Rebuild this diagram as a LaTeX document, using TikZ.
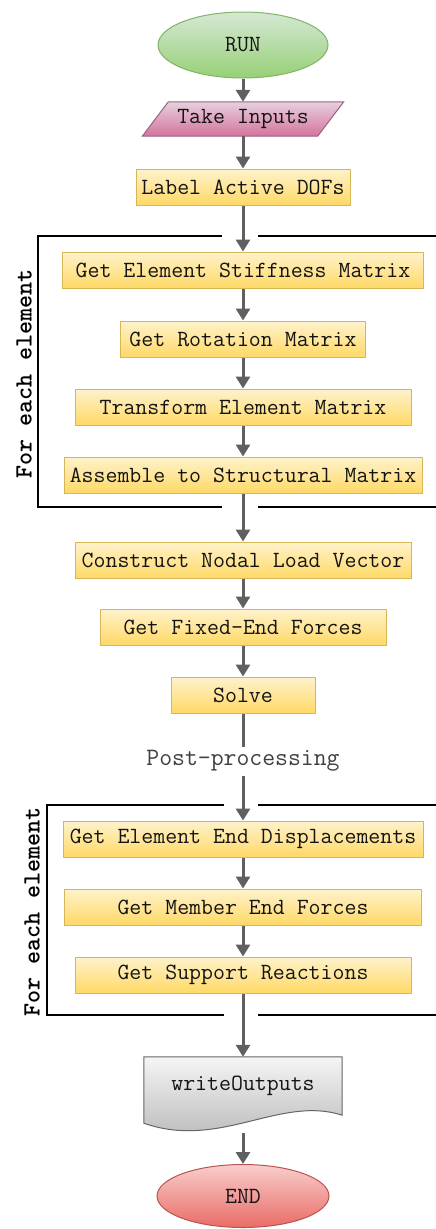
\documentclass[tikz,border=0pt]{standalone}
\usetikzlibrary{shapes.geometric,arrows.meta,backgrounds}

\definecolor{boxtop}{HTML}{FFF2CC}
\definecolor{boxbot}{HTML}{FFD966}
\definecolor{boxline}{HTML}{D6B656}
\definecolor{gotop}{HTML}{D5E8D4}
\definecolor{gobot}{HTML}{97D077}
\definecolor{goline}{HTML}{82B366}
\definecolor{intop}{HTML}{E6D0DE}
\definecolor{inbot}{HTML}{D5739D}
\definecolor{inline}{HTML}{996185}
\definecolor{doctop}{HTML}{F5F5F5}
\definecolor{docbot}{HTML}{B3B3B3}
\definecolor{docline}{HTML}{666666}
\definecolor{endtop}{HTML}{F8CECC}
\definecolor{endbot}{HTML}{EA6B66}
\definecolor{endline}{HTML}{B85450}
\definecolor{arrowc}{HTML}{606060}
\definecolor{textc}{HTML}{141414}

\tikzset{
  label font/.style={font=\ttfamily\fontsize{23.2}{23.2}\selectfont, text=textc},
  stepbox/.style={label font, draw=boxline, line width=1pt,
    top color=boxtop, bottom color=boxbot, minimum height=36pt, inner sep=0pt},
  terminal/.style={label font, ellipse, line width=1pt, inner sep=0pt},
  flow/.style={draw=arrowc, line width=3pt, -{Triangle[width=14pt,length=12pt]}},
  loopframe/.style={draw=black, line width=1.6pt},
  looplabel/.style={rotate=90, font=\ttfamily\bfseries\fontsize{24.8}{24.8}\selectfont},
}

\begin{document}
\begin{tikzpicture}[x=1pt,y=-1pt]
\useasboundingbox (0,0) rectangle (436,1229);

% terminals, input, steps
\node[terminal, draw=goline, top color=gotop, bottom color=gobot,
      minimum width=170pt, minimum height=66pt] (run) at (243,45) {RUN};

\node[label font, minimum width=201pt, minimum height=34pt, inner sep=0pt] (inp) at (243,119) {Take Inputs};
\begin{scope}[on background layer]
  \path[draw=inline, line width=1pt, top color=intop, bottom color=inbot]
    ([xshift=26pt]inp.north west) -- (inp.north east)
    -- ([xshift=-26pt]inp.south east) -- (inp.south west) -- cycle;
\end{scope}

\node[stepbox, minimum width=214pt] (lab)  at (243,187) {Label Active DOFs};
\node[stepbox, minimum width=361pt] (gesm) at (243,270) {Get Element Stiffness Matrix};
\node[stepbox, minimum width=245pt] (grm)  at (243,339) {Get Rotation Matrix};
\node[stepbox, minimum width=336pt] (tem)  at (243,407) {Transform Element Matrix};
\node[stepbox, minimum width=358pt] (asm)  at (243,475) {Assemble to Structural Matrix};
\node[stepbox, minimum width=336pt] (cnlv) at (243,560) {Construct Nodal Load Vector};
\node[stepbox, minimum width=286pt] (gfef) at (243,627) {Get Fixed-End Forces};
\node[stepbox, minimum width=144pt] (solve) at (243,695) {Solve};
\node[stepbox, minimum width=360pt] (geed) at (243,839) {Get Element End Displacements};
\node[stepbox, minimum width=357pt] (gmef) at (243,907) {Get Member End Forces};
\node[stepbox, minimum width=336pt] (gsr)  at (243,975) {Get Support Reactions};

% output document with wavy lower edge
\node[label font, minimum width=198pt, minimum height=58pt, inner sep=0pt] (doc) at (243,1086) {writeOutputs};
\begin{scope}[on background layer]
  \path[draw=docline, line width=1pt, top color=doctop, bottom color=docbot]
    (doc.north west) -- (doc.north east) -- (doc.south east)
    .. controls (280,1095) and (220,1150) .. ([yshift=-8pt]doc.south west) -- cycle;
\end{scope}
\coordinate (docout) at (243,1133);

\node[terminal, draw=endline, top color=endtop, bottom color=endbot,
      minimum width=172pt, minimum height=63pt] (end) at (243,1196) {END};

% loop frames
\draw[loopframe] (222,236) -- (38,236) -- (38,507) -- (222,507);
\draw[loopframe] (258,236) -- (436,236);
\draw[loopframe] (258,507) -- (436,507);
\node[looplabel] (loopa) at (24,374) {For each element};

\draw[loopframe] (224,805) -- (47,805) -- (47,1015) -- (224,1015);
\draw[loopframe] (258,805) -- (436,805);
\draw[loopframe] (258,1015) -- (436,1015);
\node[looplabel] (loopb) at (32,912) {For each element};

% connectors
\draw[flow] (run) -- (inp);
\draw[flow] (inp) -- (lab);
\draw[flow] (lab) -- (gesm);
\draw[flow] (gesm) -- (grm);
\draw[flow] (grm) -- (tem);
\draw[flow] (tem) -- (asm);
\draw[flow] (asm) -- (cnlv);
\draw[flow] (cnlv) -- (gfef);
\draw[flow] (gfef) -- (solve);
\draw[flow] (solve) -- node[pos=0.444, fill=white, inner xsep=2pt, inner ysep=4pt,
  font=\ttfamily\fontsize{25}{25}\selectfont, text=black!75] (post) {Post-processing} (geed);
\draw[flow] (geed) -- (gmef);
\draw[flow] (gmef) -- (gsr);
\draw[flow] (gsr) -- (doc);
\draw[flow] (docout) -- (end);
\end{tikzpicture}
\end{document}
